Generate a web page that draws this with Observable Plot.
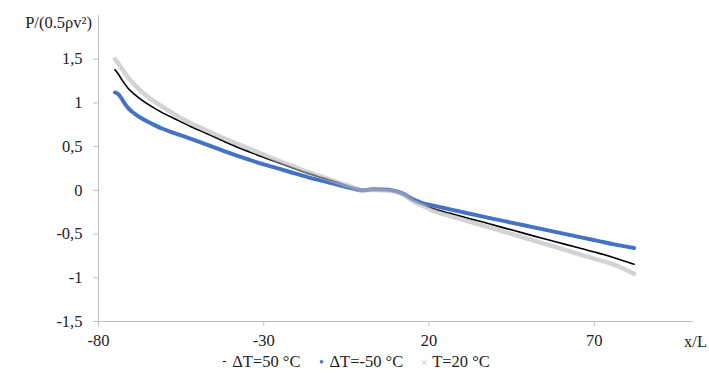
<!DOCTYPE html>
<html>
<head>
<meta charset="utf-8">
<script src="https://cdn.jsdelivr.net/npm/d3@7"></script>
<script src="https://cdn.jsdelivr.net/npm/@observablehq/plot@0.6"></script>
<style>
  html, body { margin: 0; padding: 0; background: #fff; }
  #chart { width: 709px; font-family: "Liberation Serif", "DejaVu Serif", serif; }
  #legend { width: 709px; text-align: center; font-size: 16.5px; color: #222; height: 27px; line-height: 22px; }
  #legend span.item { margin: 0 8px; }
  #legend span.mk { display: inline-block; width: 10px; text-align: center; margin-right: 3px; }
</style>
</head>
<body>
<div id="chart"></div>
<script>
// x/L positions of sampled points
const xs = [-75,-74,-73,-72,-71,-69,-67,-64,-61,-57,-52,-47,-42,-37,-32,-27,-22,-17,-12,-7,-3,0,3,6,9,12,15,18,21,26,31,36,41,46,51,56,61,66,71,76,82];
// ΔT=50 °C (black)
const dT50 = [1.38,1.33,1.27,1.215,1.165,1.095,1.035,0.96,0.895,0.82,0.728,0.645,0.56,0.479,0.405,0.335,0.268,0.20,0.14,0.08,0.03,0.0,0.01,0.005,-0.005,-0.04,-0.11,-0.16,-0.205,-0.26,-0.31,-0.36,-0.412,-0.463,-0.515,-0.565,-0.615,-0.665,-0.715,-0.77,-0.845];
// ΔT=-50 °C (blue)
const dTm50 = [1.12,1.10,1.05,0.99,0.94,0.875,0.825,0.765,0.71,0.655,0.59,0.52,0.45,0.383,0.32,0.265,0.21,0.155,0.105,0.058,0.02,0.0,0.012,0.01,0.0,-0.035,-0.10,-0.145,-0.172,-0.215,-0.257,-0.298,-0.338,-0.378,-0.418,-0.458,-0.498,-0.538,-0.578,-0.618,-0.66];
// T=20 °C (gray)
const t20 = [1.50,1.45,1.395,1.34,1.29,1.205,1.13,1.04,0.965,0.87,0.767,0.68,0.595,0.517,0.44,0.36,0.287,0.215,0.15,0.085,0.035,0.0,0.005,0.0,-0.01,-0.045,-0.12,-0.175,-0.23,-0.29,-0.345,-0.40,-0.455,-0.51,-0.567,-0.623,-0.68,-0.737,-0.793,-0.85,-0.955];

const xTicks = [-80,-30,20,70];
const yTicks = [-1.5,-1,-0.5,0,0.5,1,1.5];
const seriesNames = ["ΔT=50 °C","ΔT=-50 °C","T=20 °C"];

const mk = (ys) => xs.map((x,i) => ({x, y: ys[i]}));
const fmt = d => String(d).replace(".", ",");
const axisColor = "#bfbfbf";
const fontStack = '"Liberation Serif", "DejaVu Serif", serif';

const plot = Plot.plot({
  width: 709,
  height: 350,
  marginLeft: 98,
  marginRight: 16,
  marginTop: 15,
  marginBottom: 29,
  style: { fontFamily: fontStack, fontSize: "16.5px", color: "#222", background: "#fff" },
  x: { domain: [-80, 100] },
  y: { domain: [-1.5, 2] },
  marks: [
    Plot.ruleX([-80], { stroke: axisColor, strokeWidth: 1 }),
    Plot.ruleY([-1.5], { stroke: axisColor, strokeWidth: 1 }),
    Plot.axisY(yTicks, { tickFormat: fmt, tickSize: 5, tickPadding: 11, stroke: axisColor, label: null, fill: "#222" }),
    Plot.axisX(xTicks, { tickFormat: d => String(d), tickSize: 5, tickPadding: 8, stroke: axisColor, label: null, fill: "#222" }),
    Plot.line(mk(dT50), { x: "x", y: "y", stroke: "#000", strokeWidth: 1.6, curve: "monotone-x" }),
    Plot.line(mk(dTm50), { x: "x", y: "y", stroke: "#4472C4", strokeWidth: 4, curve: "monotone-x" }),
    Plot.line(mk(t20), { x: "x", y: "y", stroke: "#b5b5b5", strokeOpacity: 0.6, strokeWidth: 4.5, strokeDasharray: "2,1", curve: "monotone-x" })
  ]
});

const svg = d3.select(plot);
svg.selectAll("text").style("font-family", fontStack);
svg.append("text")
  .attr("x", 92).attr("y", 28)
  .attr("text-anchor", "end")
  .attr("fill", "#222")
  .style("font-family", fontStack)
  .style("font-size", "16.5px")
  .text("P/(0.5ρv²)");
svg.append("text")
  .attr("x", 707).attr("y", 347)
  .attr("text-anchor", "end")
  .attr("fill", "#222")
  .style("font-family", fontStack)
  .style("font-size", "16.5px")
  .text("x/L");

document.getElementById("chart").appendChild(plot);

const legend = document.createElement("div");
legend.id = "legend";
const markers = [
  '<span class="mk" style="color:#000;font-size:12px;vertical-align:2px">-</span>',
  '<span class="mk" style="color:#4472C4;font-size:14px">•</span>',
  '<span class="mk" style="color:#c0c0c0;font-size:12px">×</span>'
];
legend.innerHTML = seriesNames.map((n,i) => `<span class="item">${markers[i]}${n}</span>`).join("");
document.getElementById("chart").appendChild(legend);
</script>
</body>
</html>
